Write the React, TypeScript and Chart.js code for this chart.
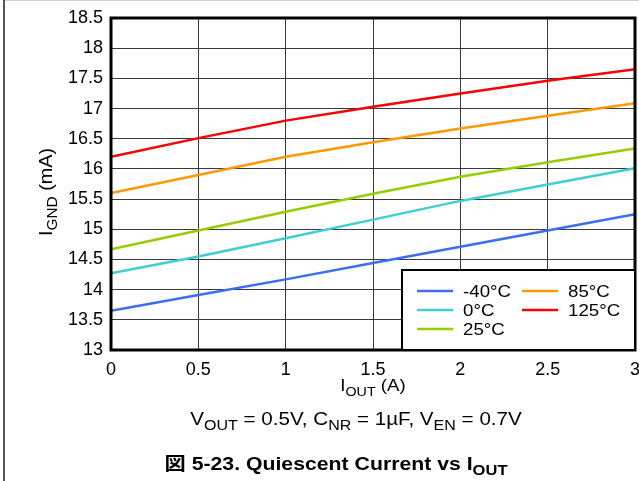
import React, { useEffect, useRef } from "react";
import { Chart, registerables } from "chart.js";

Chart.register(...registerables);

const xValues = [0, 0.5, 1, 1.5, 2, 2.5, 3];
const seriesLabels = ["-40°C", "0°C", "25°C", "85°C", "125°C"];
const seriesColors = ["#3d6cf5", "#3fcfcf", "#99cc00", "#ff9900", "#ff0000"];
const tempM40 = [13.65, 13.91, 14.17, 14.44, 14.71, 14.98, 15.25];
const temp0 = [14.27, 14.55, 14.85, 15.16, 15.47, 15.74, 16.01];
const temp25 = [14.67, 14.98, 15.29, 15.59, 15.87, 16.11, 16.34];
const temp85 = [15.6, 15.9, 16.2, 16.44, 16.67, 16.88, 17.09];
const temp125 = [16.2, 16.51, 16.8, 17.03, 17.25, 17.46, 17.65];
const seriesValues = [tempM40, temp0, temp25, temp85, temp125];
const xTickValues = [0, 0.5, 1, 1.5, 2, 2.5, 3];
const xTickLabels = ["0", "0.5", "1", "1.5", "2", "2.5", "3"];
const yTickValues = [13, 13.5, 14, 14.5, 15, 15.5, 16, 16.5, 17, 17.5, 18, 18.5];
const yTickLabels = ["13", "13.5", "14", "14.5", "15", "15.5", "16", "16.5", "17", "17.5", "18", "18.5"];

const FONT = "'Liberation Sans', Arial, 'Noto Sans CJK JP', sans-serif";

type Seg = { t: string; sub?: boolean };

function segWidth(ctx: CanvasRenderingContext2D, segs: Seg[], size: number, weight: string) {
  let w = 0;
  for (const s of segs) {
    ctx.font = `${weight} ${s.sub ? Math.round(size * 0.78) : size}px ${FONT}`;
    w += ctx.measureText(s.t).width;
  }
  return w;
}

function drawSegs(
  ctx: CanvasRenderingContext2D,
  segs: Seg[],
  cx: number,
  baseline: number,
  size: number,
  weight = "normal",
  sx = 1
) {
  ctx.save();
  ctx.translate(cx, baseline);
  ctx.scale(sx, 1);
  const total = segWidth(ctx, segs, size, weight);
  let x = -total / 2;
  ctx.textAlign = "left";
  ctx.textBaseline = "alphabetic";
  for (const s of segs) {
    const fs = s.sub ? Math.round(size * 0.78) : size;
    ctx.font = `${weight} ${fs}px ${FONT}`;
    ctx.fillText(s.t, x, s.sub ? size * 0.28 : 0);
    x += ctx.measureText(s.t).width;
  }
  ctx.restore();
}

const decorPlugin = {
  id: "decor",
  beforeDraw(chart: any) {
    const ctx = chart.ctx as CanvasRenderingContext2D;
    ctx.save();
    ctx.fillStyle = "#ffffff";
    ctx.fillRect(0, 0, chart.width, chart.height);
    ctx.strokeStyle = "#cfcfcf";
    ctx.lineWidth = 1;
    ctx.beginPath();
    ctx.moveTo(4, 0.5);
    ctx.lineTo(chart.width, 0.5);
    ctx.stroke();
    ctx.strokeStyle = "#555555";
    ctx.lineWidth = 2;
    ctx.beginPath();
    ctx.moveTo(4, 0);
    ctx.lineTo(4, chart.height);
    ctx.stroke();
    ctx.restore();
  },
  afterDraw(chart: any) {
    const ctx = chart.ctx as CanvasRenderingContext2D;
    const a = chart.chartArea;
    ctx.save();
    // frame
    ctx.strokeStyle = "#000000";
    ctx.lineWidth = 3;
    ctx.strokeRect(a.left, a.top, a.right - a.left, a.bottom - a.top);

    // legend
    const lx = 402, ly = 270;
    const lw = a.right - lx, lh = a.bottom - ly;
    ctx.fillStyle = "#ffffff";
    ctx.fillRect(lx, ly, lw, lh);
    ctx.lineWidth = 2;
    ctx.strokeRect(lx, ly, lw, lh);
    const cols = [
      { line: 417, text: 463 },
      { line: 522, text: 568 },
    ];
    const rows = [291, 310, 329];
    chart.data.datasets.forEach((ds: any, i: number) => {
      const col = cols[Math.floor(i / 3)];
      const y = rows[i % 3];
      ctx.strokeStyle = ds.borderColor;
      ctx.lineWidth = 2.5;
      ctx.beginPath();
      ctx.moveTo(col.line, y);
      ctx.lineTo(col.line + 36, y);
      ctx.stroke();
      ctx.fillStyle = "#000000";
      ctx.save();
      ctx.translate(col.text, y + 1);
      ctx.scale(1.1, 1);
      ctx.font = `17px ${FONT}`;
      ctx.textAlign = "left";
      ctx.textBaseline = "middle";
      ctx.fillText(ds.label, 0, 0);
      ctx.restore();
    });

    ctx.fillStyle = "#000000";
    // x axis title
    drawSegs(ctx, [{ t: "I" }, { t: "OUT", sub: true }, { t: " (A)" }], (a.left + a.right) / 2, 391, 17, "normal", 1.1);
    // y axis title
    ctx.save();
    ctx.translate(52, 192);
    ctx.rotate(-Math.PI / 2);
    drawSegs(ctx, [{ t: "I" }, { t: "GND", sub: true }, { t: " (mA)" }], 0, 0, 18, "normal", 1.1);
    ctx.restore();
    // condition line
    drawSegs(
      ctx,
      [
        { t: "V" }, { t: "OUT", sub: true }, { t: " = 0.5V, C" }, { t: "NR", sub: true },
        { t: " = 1µF, V" }, { t: "EN", sub: true }, { t: " = 0.7V" },
      ],
      356, 425, 18, "normal", 1.145
    );
    // figure caption
    drawSegs(
      ctx,
      [{ t: "図 5-23. Quiescent Current vs I" }, { t: "OUT", sub: true }],
      336, 470, 18, "bold", 1.18
    );
    ctx.restore();
  },
};

export default function App() {
  const ref = useRef<HTMLCanvasElement | null>(null);
  useEffect(() => {
    if (!ref.current) return;
    const chart = new Chart(ref.current, {
      type: "line",
      data: {
        datasets: seriesLabels.map((label, i) => ({
          label,
          data: xValues.map((x, j) => ({ x, y: seriesValues[i][j] })),
          borderColor: seriesColors[i],
          backgroundColor: seriesColors[i],
          borderWidth: 2.5,
          pointRadius: 0,
          tension: 0,
          fill: false,
        })),
      },
      options: {
        responsive: false,
        animation: false,
        devicePixelRatio: 1,
        layout: { padding: { left: 0, top: 18, right: 4, bottom: 0 } },
        plugins: { legend: { display: false }, title: { display: false }, tooltip: { enabled: false } },
        scales: {
          x: {
            type: "linear",
            min: 0,
            max: 3,
            afterBuildTicks: (s: any) => { s.ticks = xTickValues.map((v) => ({ value: v })); },
            afterFit: (s: any) => { s.height = 131; s.paddingLeft = 0; s.paddingRight = 0; },
            border: { display: false },
            grid: { color: "#3a3a3a", lineWidth: 1, drawTicks: false },
            ticks: {
              color: "#000",
              padding: 9,
              font: { family: FONT, size: 18 },
              maxRotation: 0,
              autoSkip: false,
              callback: (_v: any, i: number) => xTickLabels[i],
            },
          },
          y: {
            type: "linear",
            min: 13,
            max: 18.5,
            afterBuildTicks: (s: any) => { s.ticks = yTickValues.map((v) => ({ value: v })); },
            afterFit: (s: any) => { s.width = 111; s.paddingTop = 0; s.paddingBottom = 0; },
            border: { display: false },
            grid: { color: "#3a3a3a", lineWidth: 1, drawTicks: false },
            ticks: {
              color: "#000",
              padding: 8,
              font: { family: FONT, size: 18 },
              autoSkip: false,
              callback: (_v: any, i: number) => yTickLabels[i],
            },
          },
        },
      },
      plugins: [decorPlugin],
    } as any);
    return () => chart.destroy();
  }, []);
  return (
    <div style={{ position: "absolute", left: 0, top: 0, width: 639, height: 481 }}>
      <canvas ref={ref} width={639} height={481} style={{ display: "block" }} />
    </div>
  );
}
